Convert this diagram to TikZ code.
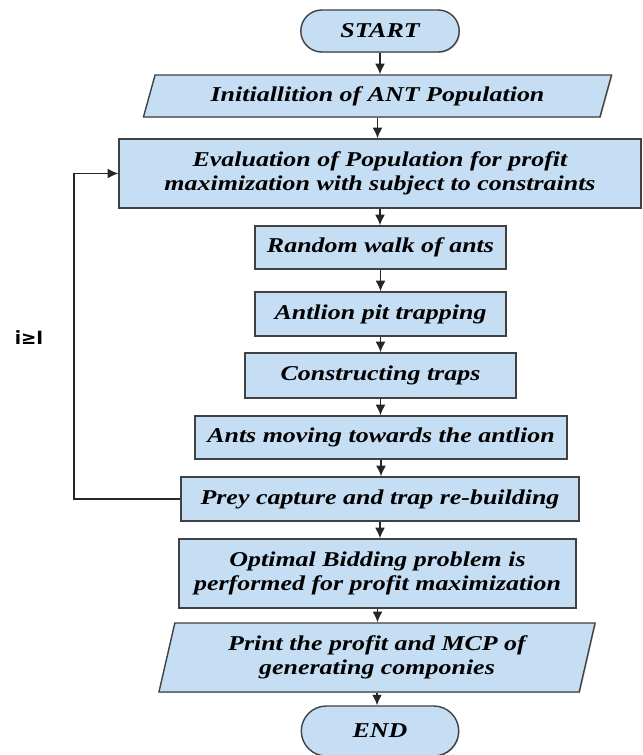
\documentclass[tikz,border=0pt]{standalone}
\usepackage{fontspec}
\setmainfont{Liberation Serif}[FakeStretch=1.23]
\newfontfamily\condfont{DejaVu Sans}
\usetikzlibrary{shapes.geometric,shapes.misc,arrows.meta,shadows}
\definecolor{boxblue}{RGB}{197,222,244}
\definecolor{boxline}{RGB}{65,65,65}
\tikzset{
  flow/.style={draw=boxline, line width=1pt, fill=boxblue, align=center,
    font=\fontsize{15}{17}\selectfont\bfseries\itshape, inner sep=2pt,
    drop shadow={shadow xshift=.7pt, shadow yshift=-.7pt, opacity=.35}},
  procbox/.style={flow, rectangle},
  termbox/.style={flow, rounded rectangle},
  iobox/.style={flow, trapezium, trapezium stretches body,
    trapezium left angle=#1, trapezium right angle=180-#1},
  link/.style={->, line width=1pt, black!85}
}
\begin{document}
\begin{tikzpicture}[>={Latex[length=7.5pt,width=7pt]}, x=0.025cm, y=-0.025cm]
\useasboundingbox (0,0) rectangle (643,755);

\node[termbox, minimum width=4.1cm, minimum height=1.05cm] (start) at (380,31) {START};
\node[iobox=65, minimum width=11.7cm, minimum height=1.05cm] (init) at (377.5,96) {Initiallition of ANT Population};
\node[procbox, minimum width=13.05cm, minimum height=1.725cm] (eval) at (380,173.5) {Evaluation of Population for profit\\maximization with subject to constraints};
\node[procbox, minimum width=6.275cm, minimum height=1.075cm] (walk) at (380.5,247.5) {Random walk of ants};
\node[procbox, minimum width=6.275cm, minimum height=1.1cm] (pit) at (380.5,314) {Antlion pit trapping};
\node[procbox, minimum width=6.775cm, minimum height=1.125cm] (traps) at (380.5,375.5) {Constructing traps};
\node[procbox, minimum width=9.3cm, minimum height=1.075cm] (moving) at (381,437.5) {Ants moving towards the antlion};
\node[procbox, minimum width=9.95cm, minimum height=1.1cm] (prey) at (380,499) {Prey capture and trap re-building};
\node[procbox, minimum width=9.925cm, minimum height=1.725cm] (optimal) at (377.5,573.5) {Optimal Bidding problem is\\performed for profit maximization};
\node[iobox=72, minimum width=10.9cm, minimum height=1.725cm] (print) at (377,657.5) {Print the profit and MCP of\\generating componies};
\node[termbox, minimum width=4.075cm, minimum height=1.25cm] (end) at (380,731) {END};

% main flow
\foreach \a/\b in {start/init,init/eval,eval/walk,walk/pit,pit/traps,traps/moving,moving/prey,prey/optimal,optimal/print,print/end}
{
    \draw[link] (\a.south) -- (\a.south |- \b.north);
}

% loop back
\coordinate (back) at (74,0);
\draw[link] (prey.west) -- (prey.west -| back) |- (eval.west);
\node[font=\condfont\bfseries\fontsize{13}{15}\selectfont] (cond) at (29,338) {i≥I};

\end{tikzpicture}
\end{document}
